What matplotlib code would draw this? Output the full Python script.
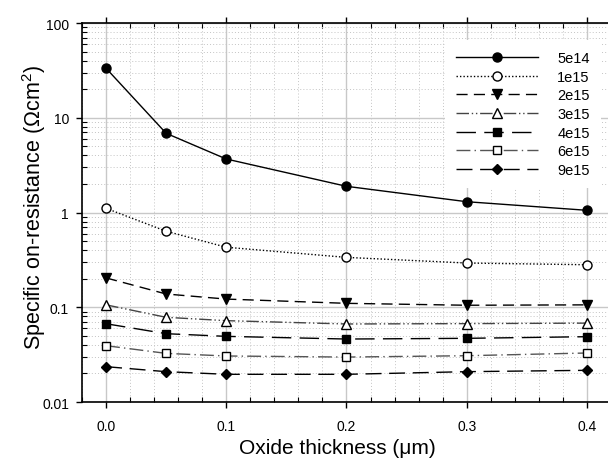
import matplotlib
matplotlib.use('Agg')
import matplotlib.pyplot as plt
import numpy as np
from matplotlib import ticker

plt.rcParams['font.family'] = ['Liberation Sans', 'DejaVu Sans']
plt.rcParams['mathtext.fontset'] = 'custom'
plt.rcParams['mathtext.rm'] = 'Liberation Sans'
plt.rcParams['mathtext.it'] = 'Liberation Sans:italic'

# data
thickness = [0.0, 0.05, 0.1, 0.2, 0.3, 0.4]
labels = ['5e14', '1e15', '2e15', '3e15', '4e15', '6e15', '9e15']
r_5e14 = [33.3, 6.85, 3.67, 1.89, 1.30, 1.055]
r_1e15 = [1.107, 0.634, 0.43, 0.336, 0.293, 0.281]
r_2e15 = [0.204, 0.138, 0.122, 0.110, 0.105, 0.106]
r_3e15 = [0.106, 0.0783, 0.0722, 0.0666, 0.0672, 0.068]
r_4e15 = [0.067, 0.0526, 0.0493, 0.0462, 0.047, 0.0489]
r_6e15 = [0.0393, 0.0326, 0.0306, 0.0298, 0.0308, 0.0329]
r_9e15 = [0.0236, 0.0209, 0.0196, 0.0196, 0.0209, 0.0216]
series = [r_5e14, r_1e15, r_2e15, r_3e15, r_4e15, r_6e15, r_9e15]

# marker, filled?, dash pattern, line colour, marker size
styles = [
    ('o', True,  None,                 'black',   6.5),
    ('o', False, (1, 1.5),             'black',   6.5),
    ('v', True,  (8, 4.5),             'black',   6.5),
    ('^', False, (9, 2, 1, 2, 1, 2),   '#444444', 6.5),
    ('s', True,  (14, 6),              'black',   6.0),
    ('s', False, (10, 3, 1, 3),        '#555555', 6.0),
    ('D', True,  (11.5, 5.5),          'black',   5.5),
]

fig = plt.figure(figsize=(6.08, 4.60), dpi=100)
ax = fig.add_axes([0.1349, 0.1239, 0.870, 0.8239])

for y, lab, (mk, filled, dash, lc, ms) in zip(series, labels, styles):
    line, = ax.plot(thickness, y, marker=mk, color=lc, lw=1.0,
                    markersize=ms, markeredgecolor='black', markeredgewidth=1.0,
                    markerfacecolor='black' if filled else 'white',
                    label=lab, zorder=3)
    if dash is not None:
        line.set_dashes(dash)

ax.set_yscale('log')
ax.set_ylim(0.01, 100)
ax.set_xlim(-0.02, 0.42)

ax.set_xticks(np.arange(0, 0.41, 0.1))
ax.set_xticks(np.arange(-0.02, 0.42, 0.02), minor=True)
ax.xaxis.set_major_formatter(ticker.FormatStrFormatter('%.1f'))
ax.set_yticks([0.01, 0.1, 1, 10, 100])
ax.yaxis.set_major_formatter(ticker.FixedFormatter(['0.01', '0.1', '1', '10', '100']))
ax.yaxis.set_minor_locator(ticker.LogLocator(base=10, subs=np.arange(2, 10)))
ax.yaxis.set_minor_formatter(ticker.NullFormatter())

ax.grid(which='major', color='#c8c8c8', lw=1.0, ls='-', zorder=0)
ax.grid(which='minor', color='#c4c4c4', lw=0.7, ls=(0, (1, 2.2)), zorder=0)
ax.set_axisbelow(True)

ax.tick_params(which='major', direction='out', top=True, right=False,
               length=4.3, width=1.0, labelsize=10)
ax.tick_params(axis='x', which='major', pad=8)
ax.tick_params(axis='y', which='major', pad=5)
ax.tick_params(which='minor', direction='in', top=True, right=False,
               length=3.5, width=0.8)
for s in ax.spines.values():
    s.set_linewidth(1.2)

ax.set_xlabel('Oxide thickness (\u03bcm)', fontsize=15)
ax.xaxis.set_label_coords(0.482, -0.121)
ax.xaxis.label.set_va('center')
ax.set_ylabel('Specific on-resistance (\u03a9cm$^{2}$)', fontsize=15.5)
ax.yaxis.set_label_coords(-0.090, 0.516)
ax.yaxis.label.set_va('center')

leg = ax.legend(loc='upper left', bbox_to_anchor=(445/608, 1 - 41/460),
                bbox_transform=fig.transFigure, frameon=True, fancybox=False,
                edgecolor='none', facecolor='white', framealpha=1.0,
                fontsize=10.5, handlelength=5.6, handletextpad=1.35,
                labelspacing=0.32, borderpad=0.75, borderaxespad=0)
leg.set_zorder(5)

fig.savefig('out.png', dpi=100)
